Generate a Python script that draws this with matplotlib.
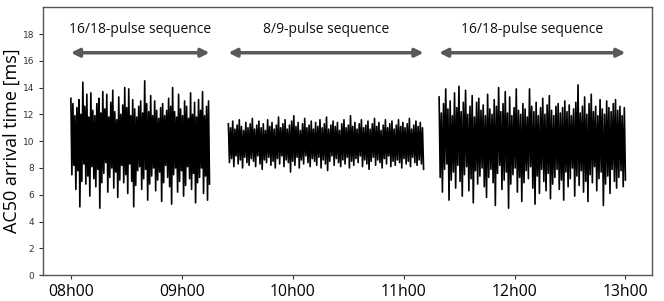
import numpy as np
import matplotlib
matplotlib.use("Agg")
import matplotlib.pyplot as plt
from matplotlib.ticker import FuncFormatter

# segment start/end times (hours) and labels
seg_times = [(8.0, 9.25), (9.42, 11.18), (11.32, 13.0)]
seg_labels = ["16/18-pulse sequence", "8/9-pulse sequence", "16/18-pulse sequence"]

# peaks / troughs, in time order, for each segment [ms]
seg1_hi = [13.2, 12.8, 11.9, 12.5, 13.1, 12.0, 14.4, 12.6, 13.5, 11.8, 13.6, 12.3, 11.9, 12.8, 13.2, 12.1, 13.7, 12.4,
           13.5, 11.8, 12.9, 13.8, 12.2, 11.6, 13.3, 12.0, 12.7, 14.0, 12.5, 13.9, 11.9, 13.1, 12.4, 11.8, 12.6, 13.0,
           12.1, 14.5, 12.8, 12.2, 13.4, 11.9, 13.0, 12.3, 11.7, 12.5, 12.8, 11.9, 12.3, 13.2, 12.6, 14.0, 12.2, 11.8,
           13.5, 12.4, 11.9, 13.0, 12.6, 11.7, 13.6, 12.0, 12.9, 11.8, 13.1, 12.3, 13.7, 11.9, 12.6, 13.0]
seg1_lo = [7.5, 8.2, 6.4, 7.8, 5.1, 7.0, 8.3, 6.8, 7.4, 5.9, 8.1, 7.2, 6.6, 7.9, 5.0, 6.9, 7.6, 8.4, 6.2, 7.3, 8.0,
           6.5, 7.7, 5.8, 7.1, 8.2, 6.9, 7.5, 6.1, 8.3, 7.0, 5.1, 6.7, 7.8, 8.1, 6.4, 7.2, 7.9, 5.6, 6.8, 7.4, 8.0,
           6.3, 7.1, 7.7, 5.5, 6.9, 8.2, 7.3, 6.6, 5.3, 7.5, 8.0, 6.2, 7.0, 7.8, 5.9, 6.7, 8.1, 7.2, 6.4, 7.6, 5.4,
           6.9, 7.3, 8.0, 6.1, 7.4, 5.6, 6.8]

seg2_hi = [11.3, 11.0, 11.5, 10.9, 11.2, 11.6, 11.1, 10.8, 11.4, 11.0, 11.3, 11.7, 10.9, 11.2, 11.5, 11.0, 11.3, 10.8,
           11.6, 11.1, 11.4, 10.9, 11.2, 11.8, 11.0, 11.3, 11.6, 10.9, 11.2, 11.5, 11.9, 11.1, 11.4, 10.8, 11.3, 11.7,
           11.0, 11.2, 11.5, 10.9, 11.4, 11.1, 11.6, 11.0, 11.3, 11.8, 10.9, 11.2, 11.5, 11.1, 11.4, 10.8, 11.3, 11.6,
           11.0, 11.2, 11.9, 11.1, 11.4, 10.9, 11.3, 11.6, 11.0, 11.2, 11.5, 10.9, 11.3, 11.7, 11.1, 11.4, 10.8, 11.2,
           11.6, 11.0, 11.3, 11.5, 10.9, 11.2, 11.6, 11.1, 11.4, 11.0, 11.3, 11.7, 10.9, 11.2, 11.5, 11.1, 11.4, 11.0]
seg2_lo = [8.4, 8.7, 8.1, 8.9, 8.3, 8.6, 8.0, 8.8, 8.4, 8.2, 8.7, 8.5, 8.1, 8.9, 8.3, 7.9, 8.6, 8.4, 8.8, 8.2,
           8.5, 8.0, 8.7, 8.3, 8.9, 8.1, 8.6, 8.4, 7.7, 8.5, 8.2, 8.8, 8.0, 8.6, 8.3, 8.9, 8.4, 8.1, 8.7, 8.5,
           8.2, 8.8, 8.0, 8.6, 8.3, 7.8, 8.5, 8.9, 8.2, 8.7, 8.4, 8.1, 8.6, 8.3, 8.8, 8.0, 8.5, 8.2, 8.7, 8.4,
           8.9, 8.1, 8.6, 8.3, 7.9, 8.5, 8.8, 8.2, 8.6, 8.4, 8.0, 8.7, 8.3, 8.9, 8.1, 8.5, 8.2, 8.6, 8.4, 8.0,
           8.7, 8.3, 8.5, 8.1, 8.8, 8.4, 8.2, 8.6, 8.3, 7.9]

seg3_hi = [13.3, 12.1, 12.8, 13.9, 12.4, 13.0, 11.9, 13.6, 12.5, 14.1, 12.2, 12.9, 13.8, 12.0, 12.6, 13.4, 11.8, 12.9,
           13.2, 12.3, 12.7, 11.9, 13.5, 12.4, 12.0, 13.1, 12.6, 14.0, 12.2, 12.8, 13.7, 12.1, 13.3, 11.9, 12.5, 13.9,
           12.3, 12.0, 12.8, 12.4, 11.8, 13.9, 12.6, 12.2, 12.9, 11.9, 12.5, 13.2, 12.0, 12.7, 13.4, 12.3, 11.9, 12.6,
           12.8, 12.1, 12.5, 13.0, 12.2, 12.7, 11.9, 12.4, 12.9, 14.2, 12.1, 12.6, 13.3, 12.0, 12.8, 13.5, 12.2, 12.6,
           11.9, 13.1, 12.4, 12.0, 13.0, 12.5, 12.2, 12.8, 13.1, 12.3, 12.6, 11.9, 12.5]
seg3_lo = [7.3, 6.2, 7.9, 8.3, 5.6, 7.1, 7.7, 6.5, 8.2, 7.0, 5.9, 7.5, 8.1, 6.3, 7.2, 5.4, 7.8, 6.8, 7.4, 8.0,
           6.6, 5.8, 7.3, 7.9, 6.9, 5.2, 7.6, 8.2, 6.4, 7.1, 7.7, 5.0, 6.8, 7.5, 8.0, 6.2, 7.3, 5.5, 6.9, 7.8,
           7.2, 8.1, 6.5, 5.3, 7.4, 6.1, 7.9, 7.0, 6.3, 7.6, 5.7, 6.8, 7.3, 7.9, 6.4, 7.1, 5.6, 7.7, 6.6, 7.2,
           8.0, 5.9, 7.4, 6.7, 7.8, 6.2, 7.0, 5.5, 7.5, 6.9, 8.1, 6.3, 7.2, 7.7, 5.2, 6.8, 7.4, 6.1, 7.9, 7.0,
           6.5, 7.3, 7.8, 6.6, 7.1]

segments = [(seg1_hi, seg1_lo), (seg2_hi, seg2_lo), (seg3_hi, seg3_lo)]
hour_ticks = [8, 9, 10, 11, 12, 13]

fig = plt.figure(figsize=(6.64, 3.01), dpi=100)
ax = fig.add_axes([0.065, 0.086, 0.917, 0.890])

for (t0, t1), (hi, lo) in zip(seg_times, segments):
    # alternate peak / trough samples
    y = np.empty(len(hi) + len(lo))
    y[0::2] = hi
    y[1::2] = lo
    x = np.linspace(t0, t1, len(y))
    ax.plot(x, y, color="black", lw=1.2)

# arrows + labels above each sequence
for (t0, t1), lab in zip(seg_times, seg_labels):
    ax.annotate("", xy=(t0, 16.6), xytext=(t1, 16.6),
                arrowprops=dict(arrowstyle="<|-|>", color="#595959", lw=2.5,
                                mutation_scale=12, shrinkA=0, shrinkB=0))
    ax.text((t0 + t1) / 2, 18.3, lab, ha="center", va="center",
            fontsize=10, family="Open Sans", color="#111111")

ax.set_xlim(7.75, 13.24)
ax.set_ylim(0, 20)
ax.set_yticks(range(0, 20, 2))
ax.set_xticks(hour_ticks)
ax.xaxis.set_major_formatter(FuncFormatter(lambda v, p: "%02dh00" % int(round(v))))
ax.tick_params(axis="y", labelsize=6.5, length=3, colors="#333333")
ax.tick_params(axis="x", length=3, colors="#333333")
for lbl in ax.get_xticklabels():
    lbl.set_fontfamily("Open Sans")
    lbl.set_fontsize(11.3)
    lbl.set_color("black")
ax.set_ylabel("AC50 arrival time [ms]", fontsize=13, family="Open Sans", labelpad=1)
for s in ax.spines.values():
    s.set_color("#555555")
    s.set_linewidth(1.0)

fig.savefig("out.png", dpi=100)
